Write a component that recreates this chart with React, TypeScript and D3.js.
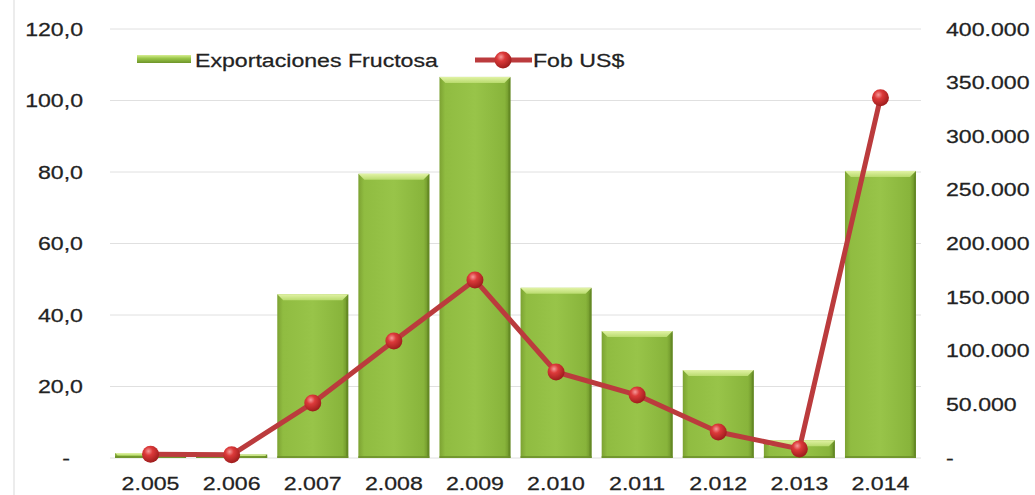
import React from "react";
import * as d3 from "d3";

const years = ["2.005", "2.006", "2.007", "2.008", "2.009", "2.010", "2.011", "2.012", "2.013", "2.014"];
const exportaciones = [1.4, 1.0, 45.8, 79.5, 106.6, 47.6, 35.5, 24.6, 5.0, 80.3];
const fobUSD = [3500, 3000, 51300, 109000, 166000, 80200, 58700, 24200, 8500, 335800];
const leftTicks = [0, 20, 40, 60, 80, 100, 120];
const rightTicks = [0, 50000, 100000, 150000, 200000, 250000, 300000, 350000, 400000];
const seriesNames = ["Exportaciones Fructosa", "Fob US$"];

const W = 1035;
const H = 495;
const plot = { left: 110, right: 921, top: 29, bottom: 458 };
const FONT = "'Liberation Sans', Arial, sans-serif";
const FS = 18.5;
const SX = 1.25;
const TXT = "#222222";

const esLocale = d3.formatLocale({ decimal: ",", thousands: ".", grouping: [3], currency: ["$", ""] });
const fmtLeft = (v: number) => (v === 0 ? "-" : esLocale.format(".1f")(v));
const fmtRight = (v: number) => (v === 0 ? "-" : esLocale.format(",.0f")(v));

function T({ x, y, anchor, children }: { x: number; y: number; anchor: string; children: any }) {
  return (
    <text
      transform={`translate(${x},${y}) scale(${SX},1)`}
      textAnchor={anchor}
      fontFamily={FONT}
      fontSize={FS}
      fill={TXT}
      stroke={TXT}
      strokeWidth={0.25}
    >
      {children}
    </text>
  );
}

function Bar({ x, y, w, h }: { x: number; y: number; w: number; h: number }) {
  const bev = Math.min(6, h / 2);
  return (
    <g>
      <rect x={x} y={y} width={w} height={h} fill="url(#barGrad)" />
      <polygon
        points={`${x},${y} ${x + w},${y} ${x + w - bev},${y + bev} ${x + bev},${y + bev}`}
        fill="url(#bevGrad)"
      />
      <polygon
        points={`${x + w},${y} ${x + w},${y + h} ${x + w - 2},${y + h} ${x + w - 2},${y + bev}`}
        fill="#5f8422"
        opacity={0.7}
      />
      <rect x={x} y={y + h - 2} width={w} height={2} fill="#6b8f2a" opacity={0.8} />
    </g>
  );
}

export default function App() {
  const x = d3.scaleBand<string>().domain(years).range([plot.left, plot.right]).paddingInner(0.125).paddingOuter(0.0625);
  const yL = d3.scaleLinear().domain([0, 120]).range([plot.bottom, plot.top]);
  const yR = d3.scaleLinear().domain([0, 400000]).range([plot.bottom, plot.top]);
  const cx = (d: string) => (x(d) as number) + x.bandwidth() / 2;

  const line = d3
    .line<number>()
    .x((_, i) => cx(years[i]))
    .y((v) => yR(v));

  return (
    <div style={{ position: "absolute", left: 0, top: 0 }}>
      <svg width={W} height={H} style={{ display: "block", background: "#fff" }}>
        <defs>
          <linearGradient id="barGrad" x1="0" x2="1" y1="0" y2="0">
            <stop offset="0" stopColor="#7ca232" />
            <stop offset="0.08" stopColor="#90bc41" />
            <stop offset="0.5" stopColor="#98c449" />
            <stop offset="0.92" stopColor="#88b43b" />
            <stop offset="1" stopColor="#6a8f27" />
          </linearGradient>
          <linearGradient id="bevGrad" x1="0" x2="0" y1="0" y2="1">
            <stop offset="0" stopColor="#e2f3a6" />
            <stop offset="1" stopColor="#b9db6e" />
          </linearGradient>
          <radialGradient id="dotGrad" cx="0.38" cy="0.32" r="0.7">
            <stop offset="0" stopColor="#f59a9a" />
            <stop offset="0.35" stopColor="#dc3a3a" />
            <stop offset="1" stopColor="#9c1b1b" />
          </radialGradient>
          <linearGradient id="legGrad" x1="0" x2="0" y1="0" y2="1">
            <stop offset="0" stopColor="#d7ee93" />
            <stop offset="0.4" stopColor="#9cc84b" />
            <stop offset="1" stopColor="#6e9429" />
          </linearGradient>
        </defs>

        <line x1={14} x2={14} y1={0} y2={H} stroke="#e6e6e6" strokeWidth={1.5} />

        {leftTicks.map((t) => (
          <line key={"g" + t} x1={plot.left} x2={plot.right} y1={yL(t)} y2={yL(t)} stroke="#e0e0e0" strokeWidth={1} />
        ))}

        {exportaciones.map((v, i) => {
          const x0 = x(years[i]) as number;
          const y0 = yL(v);
          return <Bar key={years[i]} x={x0} y={y0} w={x.bandwidth()} h={plot.bottom - y0} />;
        })}

        <path d={line(fobUSD) as string} fill="none" stroke="#bb3b3d" strokeWidth={5} strokeLinejoin="round" />
        {fobUSD.map((v, i) => (
          <circle key={"p" + i} cx={cx(years[i])} cy={yR(v)} r={8.5} fill="url(#dotGrad)" />
        ))}

        {leftTicks.map((t) => (
          <T key={"l" + t} x={t === 0 ? 70 : 83} y={yL(t) + 6.5} anchor="end">
            {fmtLeft(t)}
          </T>
        ))}
        {rightTicks.map((t) => (
          <T key={"r" + t} x={946} y={yR(t) + 6.5} anchor="start">
            {fmtRight(t)}
          </T>
        ))}
        {years.map((yr) => (
          <T key={"x" + yr} x={cx(yr)} y={490} anchor="middle">
            {yr}
          </T>
        ))}

        <rect x={137} y={55} width={54} height={8} fill="url(#legGrad)" />
        <T x={195} y={66.5} anchor="start">
          {seriesNames[0]}
        </T>
        <line x1={475} x2={532} y1={60} y2={60} stroke="#bb3b3d" strokeWidth={5} />
        <circle cx={503} cy={60} r={8.5} fill="url(#dotGrad)" />
        <T x={533} y={66.5} anchor="start">
          {seriesNames[1]}
        </T>
      </svg>
    </div>
  );
}
